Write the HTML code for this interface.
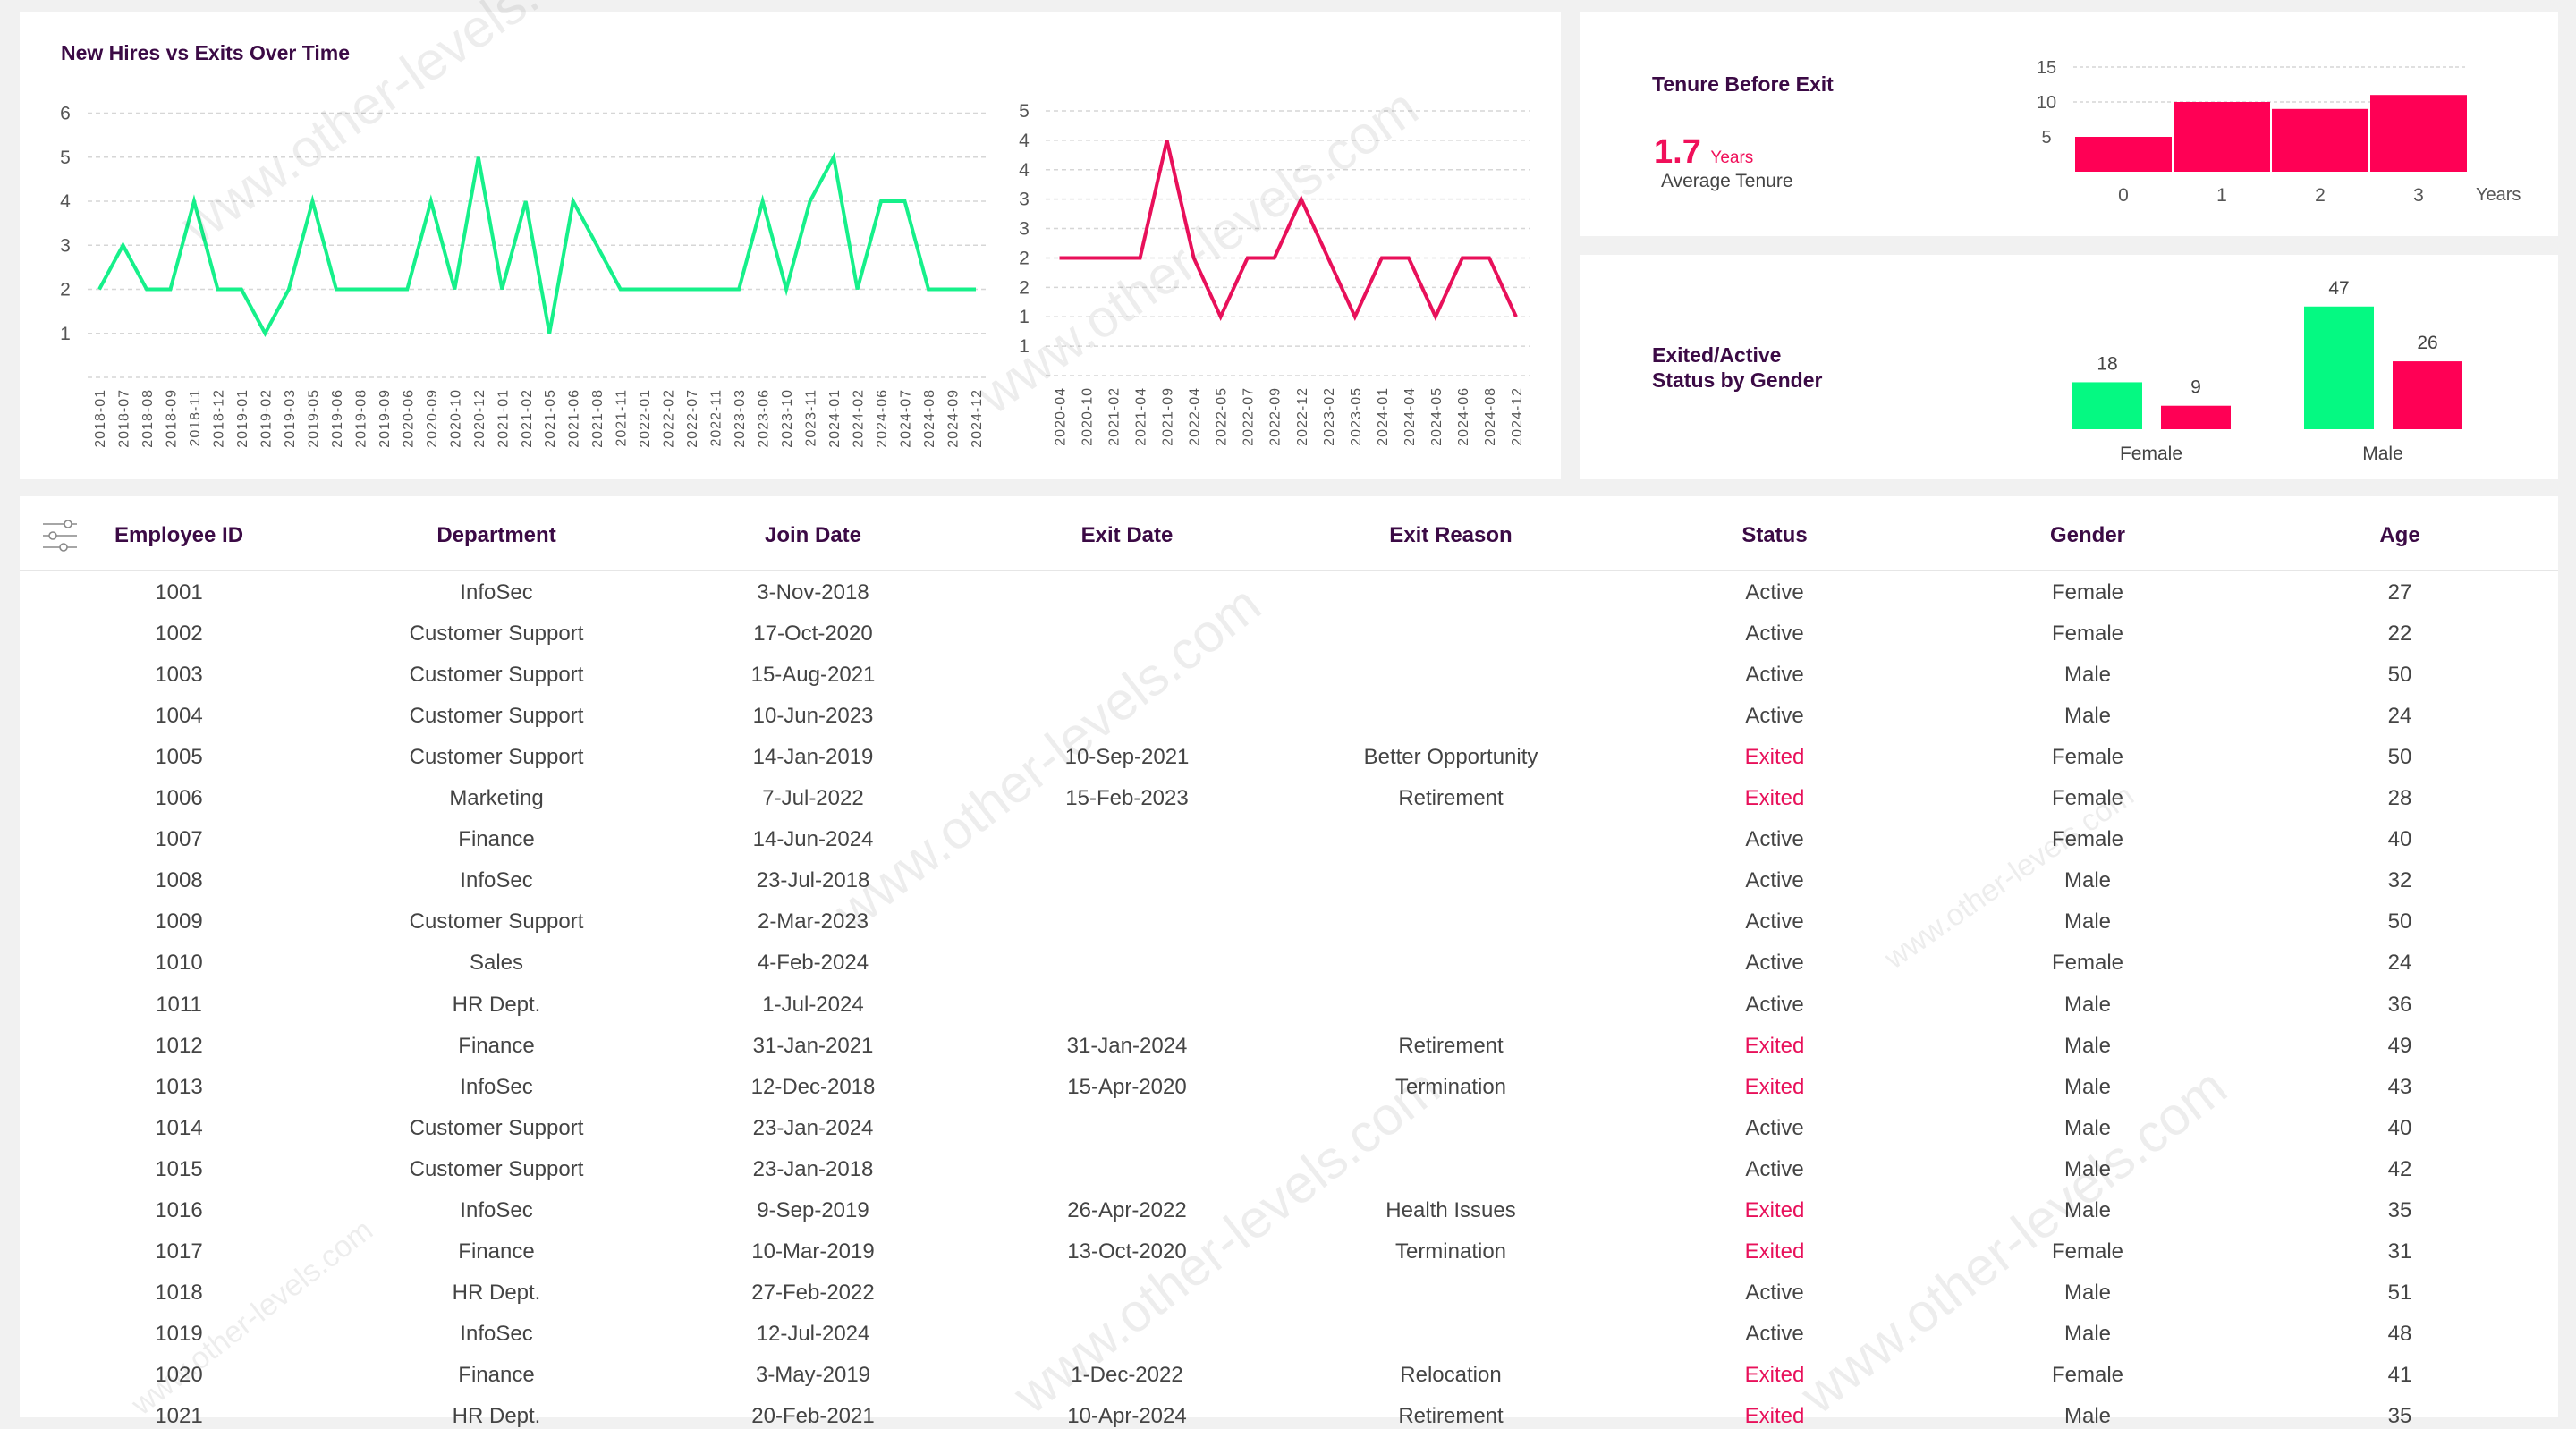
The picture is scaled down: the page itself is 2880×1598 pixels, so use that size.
<!DOCTYPE html>
<html><head><meta charset="utf-8">
<style>
html,body{margin:0;padding:0;}
body{width:2880px;height:1574px;background:#f1f1f1;position:relative;overflow:hidden;font-family:"Liberation Sans",Arial,sans-serif;}
.card{position:absolute;background:#fff;}
svg text{font-family:"Liberation Sans",Arial,sans-serif;}
.th{position:absolute;top:585px;font-size:24px;font-weight:bold;color:#3b0a45;transform:translateX(-50%);white-space:nowrap;}
.td{position:absolute;font-size:24px;color:#444;transform:translateX(-50%);white-space:nowrap;}
.wm{position:absolute;font-size:60px;color:rgba(0,0,0,0.07);white-space:nowrap;transform-origin:left top;pointer-events:none;}
</style></head>
<body>
<div class="card" style="left:22px;top:13px;width:1723px;height:523px;"></div>
<div class="card" style="left:1767px;top:13px;width:1093px;height:251px;"></div>
<div class="card" style="left:1767px;top:285px;width:1093px;height:251px;"></div>
<div class="card" style="left:22px;top:555px;width:2838px;height:1030px;"></div>

<svg id="charts" width="2880" height="1574" style="position:absolute;left:0;top:0;">
  <text x="68" y="67" font-size="23" font-weight="bold" fill="#3b0a45">New Hires vs Exits Over Time</text>
  <g id="hires"></g>
  <g id="exits"></g>
  <text x="1847" y="102" font-size="23" font-weight="bold" fill="#3b0a45">Tenure Before Exit</text>
  <text x="1849" y="182" font-size="38" font-weight="bold" fill="#f0105a">1.7 <tspan font-size="19" font-weight="normal">Years</tspan></text>
  <text x="1857" y="209" font-size="21" fill="#444">Average Tenure</text>
  <g id="tenure"></g>
  <text x="1847" y="405" font-size="23" font-weight="bold" fill="#3b0a45">Exited/Active</text>
  <text x="1847" y="433" font-size="23" font-weight="bold" fill="#3b0a45">Status by Gender</text>
  <g id="gender"></g>
  <g stroke="#888" stroke-width="1.6" fill="#fff">
    <line x1="48" y1="586" x2="86" y2="586"/><circle cx="76" cy="586" r="4"/>
    <line x1="48" y1="599" x2="86" y2="599"/><circle cx="59" cy="599" r="4"/>
    <line x1="48" y1="612" x2="86" y2="612"/><circle cx="71" cy="612" r="4"/>
  </g>
  <line x1="22" y1="638" x2="2860" y2="638" stroke="#e6e6e6" stroke-width="2"/>
</svg>
<div id="table"></div>

<div class="wm" style="left:190px;top:230px;transform:rotate(-35deg);">www.other-levels.com</div>
<div class="wm" style="left:1080px;top:420px;transform:rotate(-35deg);">www.other-levels.com</div>
<div class="wm" style="left:920px;top:1000px;transform:rotate(-38deg);">www.other-levels.com</div>
<div class="wm" style="left:1120px;top:1540px;transform:rotate(-38deg);">www.other-levels.com</div>
<div class="wm" style="left:2000px;top:1540px;transform:rotate(-38deg);">www.other-levels.com</div>
<div class="wm" style="left:2100px;top:1060px;font-size:34px;transform:rotate(-35deg);">www.other-levels.com</div>
<div class="wm" style="left:140px;top:1560px;font-size:34px;transform:rotate(-38deg);">www.other-levels.com</div>

<script>
const NS="http://www.w3.org/2000/svg";
const hireMonths=["2018-01","2018-07","2018-08","2018-09","2018-11","2018-12","2019-01","2019-02","2019-03","2019-05","2019-06","2019-08","2019-09","2020-06","2020-09","2020-10","2020-12","2021-01","2021-02","2021-05","2021-06","2021-08","2021-11","2022-01","2022-02","2022-07","2022-11","2023-03","2023-06","2023-10","2023-11","2024-01","2024-02","2024-06","2024-07","2024-08","2024-09","2024-12"];
const hireValues=[2,3,2,2,4,2,2,1,2,4,2,2,2,2,4,2,5,2,4,1,4,3,2,2,2,2,2,2,4,2,4,5,2,4,4,2,2,2];
const hireTicks=[0,1,2,3,4,5,6];
const exitMonths=["2020-04","2020-10","2021-02","2021-04","2021-09","2022-04","2022-05","2022-07","2022-09","2022-12","2023-02","2023-05","2024-01","2024-04","2024-05","2024-06","2024-08","2024-12"];
const exitValues=[2,2,2,2,4,2,1,2,2,3,2,1,2,2,1,2,2,1];
const exitTicks=[0,0.5,1,1.5,2,2.5,3,3.5,4,4.5];
const tenureYears=["0","1","2","3"];
const tenureCounts=[5,10,9,11];
const tenureTicks=[5,10,15];
const genders=["Female","Male"];
const activeCounts=[18,47];
const exitedCounts=[9,26];

function el(tag,attrs,parent){const e=document.createElementNS(NS,tag);for(const k in attrs)e.setAttribute(k,attrs[k]);parent.appendChild(e);return e;}

function lineChart(gid,cats,vals,ticks,x0,x1,gx0,gx1,yTop,yBot,maxV,color,labelX,tickFmt,name){
  const g=document.getElementById(gid);
  const ys=v=>yBot-(v/maxV)*(yBot-yTop);
  const xs=i=>x0+i*(x1-x0)/(cats.length-1);
  ticks.forEach(t=>{
    const l=el('line',{x1:gx0,x2:gx1,y1:ys(t),y2:ys(t),stroke:'#d6d6d6','stroke-width':1.5,'stroke-dasharray':'5,4'},g);
    
    
    if(t>0){const tx=el('text',{x:labelX,y:ys(t)+7,'font-size':21,fill:'#555','text-anchor':'middle'},g);tx.textContent=tickFmt(t);
    
    }
  });
  cats.forEach((c,i)=>{
    const tx=el('text',{x:0,y:0,'font-size':16,fill:'#555','text-anchor':'end','letter-spacing':'1',transform:`translate(${xs(i)+6},${yBot+13}) rotate(-90)`},g);
    tx.textContent=c;
    
    
  });
  const p=el('polyline',{points:vals.map((v,i)=>xs(i)+','+ys(v)).join(' '),fill:'none',stroke:color,'stroke-width':4,'stroke-linejoin':'miter'},g);
  
  
}
lineChart('hires',hireMonths,hireValues,hireTicks,111,1091,98,1104,126.5,422,6,'#16f08a',73,t=>String(t),'hires');
lineChart('exits',exitMonths,exitValues,exitTicks,1184.5,1695,1169,1710,124,420,4.5,'#e8105a',1145,t=>String(Math.round(t)),'exits');

(function(){
  const g=document.getElementById('tenure');
  const base=192, per=7.8, bx0=2320, bw=108, gap=2;
  tenureTicks.forEach(t=>{
    if(t>5){const l=el('line',{x1:2318,x2:2758,y1:base-t*per,y2:base-t*per,stroke:'#d6d6d6','stroke-width':1.5,'stroke-dasharray':'4,3'},g);
    
    }
    const tx=el('text',{x:2288,y:base-t*per+7,'font-size':20,fill:'#555','text-anchor':'middle'},g);tx.textContent=t;
    
    
  });
  tenureCounts.forEach((v,i)=>{
    const r=el('rect',{x:bx0+i*(bw+gap),y:base-v*per,width:bw,height:v*per,fill:'#ff0055'},g);
    
    
    const tx=el('text',{x:bx0+i*(bw+gap)+bw/2,y:225,'font-size':21,fill:'#555','text-anchor':'middle'},g);tx.textContent=tenureYears[i];
    
    
  });
  const yl=el('text',{x:2768,y:224,'font-size':20,fill:'#555'},g);yl.textContent='Years';
  
  
})();

(function(){
  const g=document.getElementById('gender');
  const base=480, per=2.92, bw=78;
  const starts=[2317,2576];
  genders.forEach((gn,i)=>{
    [[activeCounts[i],'#05f982','active'],[exitedCounts[i],'#ff0055','exited']].forEach((d,j)=>{
      const x=starts[i]+j*99;
      const r=el('rect',{x:x,y:base-d[0]*per,width:bw,height:d[0]*per,fill:d[1]},g);
      
      
      const t=el('text',{x:x+bw/2,y:base-d[0]*per-14,'font-size':21,fill:'#444','text-anchor':'middle'},g);t.textContent=d[0];
      
      
    });
    const t=el('text',{x:starts[i]+88,y:514,'font-size':21,fill:'#444','text-anchor':'middle'},g);t.textContent=gn;
    
    
  });
})();

const colX=[200,555,909,1260,1622,1984,2334,2683];
const headers=["Employee ID","Department","Join Date","Exit Date","Exit Reason","Status","Gender","Age"];
const rows=[
["1001","InfoSec","3-Nov-2018","","","Active","Female","27"],
["1002","Customer Support","17-Oct-2020","","","Active","Female","22"],
["1003","Customer Support","15-Aug-2021","","","Active","Male","50"],
["1004","Customer Support","10-Jun-2023","","","Active","Male","24"],
["1005","Customer Support","14-Jan-2019","10-Sep-2021","Better Opportunity","Exited","Female","50"],
["1006","Marketing","7-Jul-2022","15-Feb-2023","Retirement","Exited","Female","28"],
["1007","Finance","14-Jun-2024","","","Active","Female","40"],
["1008","InfoSec","23-Jul-2018","","","Active","Male","32"],
["1009","Customer Support","2-Mar-2023","","","Active","Male","50"],
["1010","Sales","4-Feb-2024","","","Active","Female","24"],
["1011","HR Dept.","1-Jul-2024","","","Active","Male","36"],
["1012","Finance","31-Jan-2021","31-Jan-2024","Retirement","Exited","Male","49"],
["1013","InfoSec","12-Dec-2018","15-Apr-2020","Termination","Exited","Male","43"],
["1014","Customer Support","23-Jan-2024","","","Active","Male","40"],
["1015","Customer Support","23-Jan-2018","","","Active","Male","42"],
["1016","InfoSec","9-Sep-2019","26-Apr-2022","Health Issues","Exited","Male","35"],
["1017","Finance","10-Mar-2019","13-Oct-2020","Termination","Exited","Female","31"],
["1018","HR Dept.","27-Feb-2022","","","Active","Male","51"],
["1019","InfoSec","12-Jul-2024","","","Active","Male","48"],
["1020","Finance","3-May-2019","1-Dec-2022","Relocation","Exited","Female","41"],
["1021","HR Dept.","20-Feb-2021","10-Apr-2024","Retirement","Exited","Male","35"]
];
const tbl=document.getElementById('table');
headers.forEach((h,i)=>{
  const d=document.createElement('div');d.className='th';d.style.left=colX[i]+'px';d.textContent=h;
  
  
  tbl.appendChild(d);
});
rows.forEach((r,ri)=>{
  r.forEach((c,ci)=>{
    if(!c)return;
    const d=document.createElement('div');d.className='td';
    d.style.left=colX[ci]+'px';d.style.top=(649+ri*46.05)+'px';
    if(ci===5&&c==='Exited')d.style.color='#e8105a';
    d.textContent=c;
    
    
    tbl.appendChild(d);
  });
});
</script>
</body></html>
